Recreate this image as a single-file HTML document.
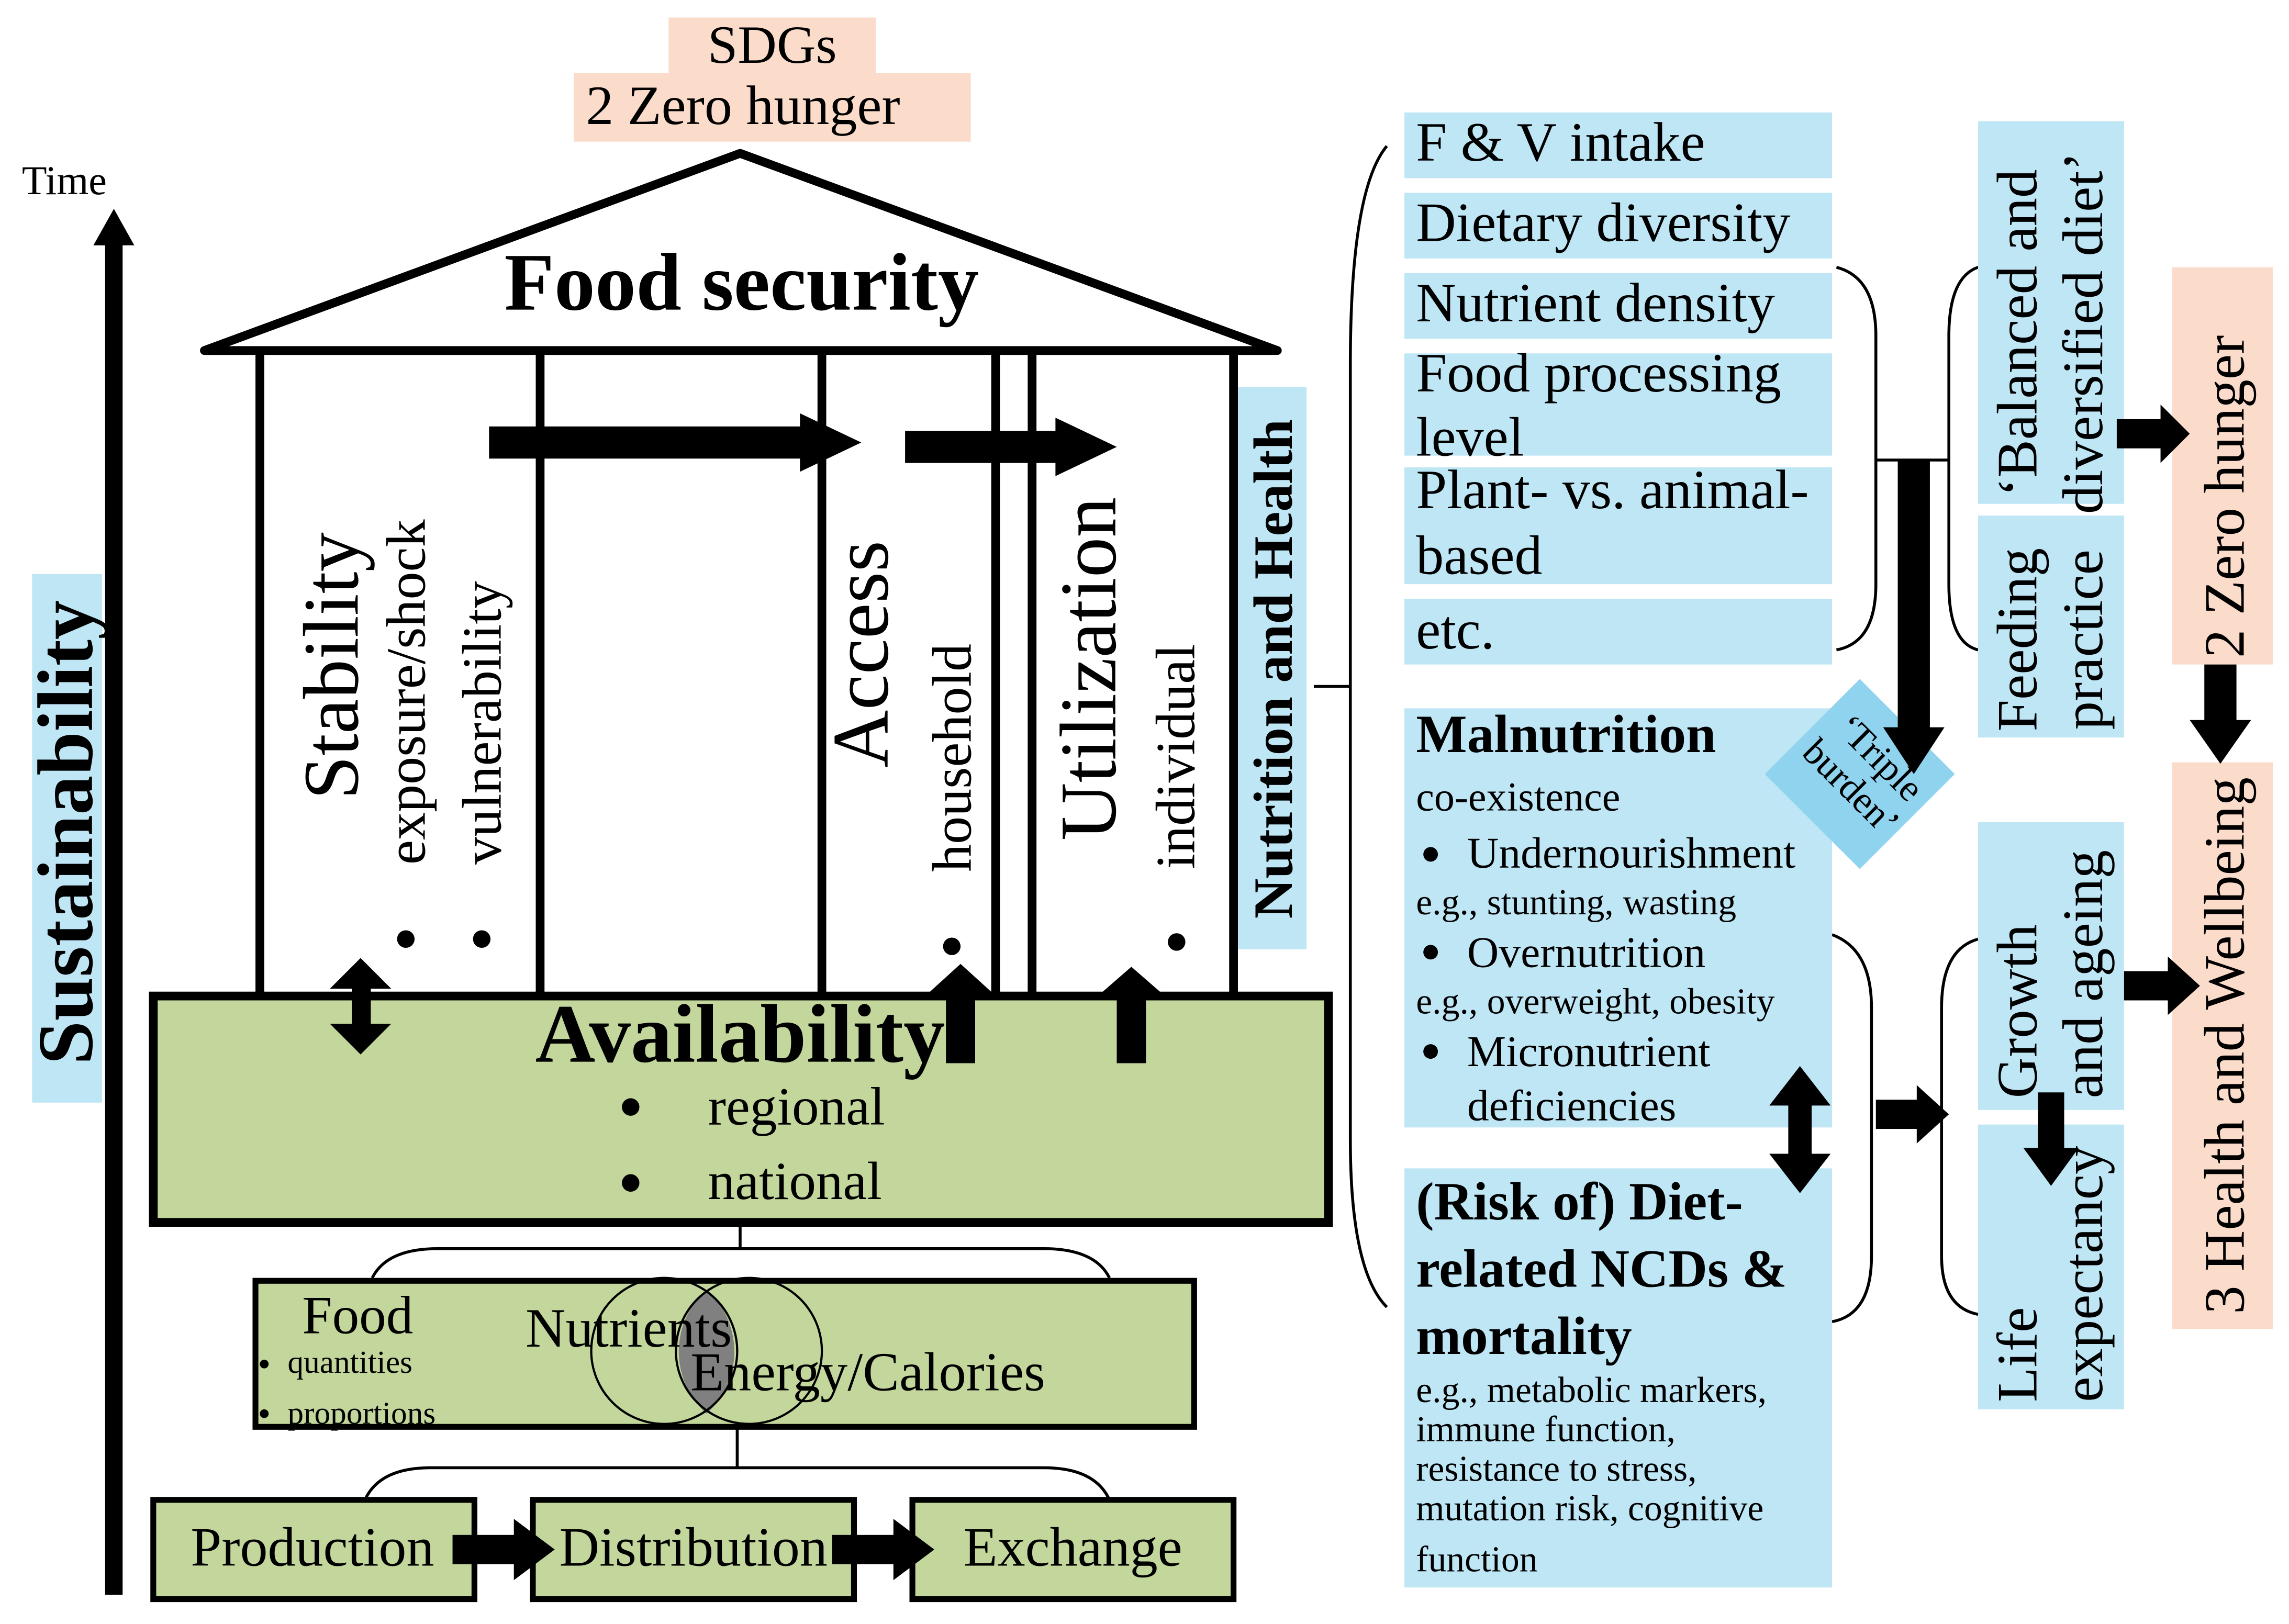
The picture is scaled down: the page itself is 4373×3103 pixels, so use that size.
<!DOCTYPE html>
<html><head><meta charset="utf-8"><style>
html,body{margin:0;padding:0;background:#fff}
svg{display:block}
text{font-family:"Liberation Serif",serif;fill:#000}
</style></head><body>
<svg width="4373" height="3103" viewBox="0 0 1568 1112" preserveAspectRatio="none" xmlns="http://www.w3.org/2000/svg">
<!-- SDGs -->
<rect x="458" y="12" width="142" height="40" fill="#fbdccb"/>
<rect x="393" y="50" width="272" height="47" fill="#fbdccb"/>
<text x="529" y="43" font-size="37" text-anchor="middle">SDGs</text>
<text x="509" y="85" font-size="38" text-anchor="middle">2 Zero hunger</text>
<!-- time arrow -->
<text x="15" y="133" font-size="28">Time</text>
<line x1="78" y1="1092" x2="78" y2="165" stroke="#000" stroke-width="12"/>
<path d="M64,168 L78,143 L92,168 Z"/>
<rect x="22" y="393" width="48" height="362" fill="#bfe6f5"/>
<text transform="translate(63,570) rotate(-90)" font-size="54" font-weight="bold" text-anchor="middle">Sustainability</text>
<!-- roof -->
<path d="M140,240 L507,105 L875,240 Z" fill="#fff" stroke="#000" stroke-width="6" stroke-linejoin="round"/>
<text x="508" y="212" font-size="56" font-weight="bold" text-anchor="middle">Food security</text>
<!-- pillars -->
<g stroke="#000" stroke-width="6">
<line x1="178" y1="240" x2="178" y2="682"/>
<line x1="370" y1="240" x2="370" y2="682"/>
<line x1="563" y1="240" x2="563" y2="682"/>
<line x1="682" y1="240" x2="682" y2="682"/>
<line x1="707" y1="240" x2="707" y2="682"/>
<line x1="845" y1="240" x2="845" y2="682"/>
</g>
<rect x="335" y="292" width="215" height="22"/><path d="M548,283 L590,303 L548,323 Z"/>
<rect x="620" y="295" width="105" height="22"/><path d="M723,286 L765,306 L723,326 Z"/>
<text transform="translate(245,456) rotate(-90)" font-size="54" text-anchor="middle">Stability</text>
<text transform="translate(291,592) rotate(-90)" font-size="38" text-anchor="start">exposure/shock</text>
<text transform="translate(343,592) rotate(-90)" font-size="38" text-anchor="start">vulnerability</text>
<circle cx="278" cy="643" r="6"/><circle cx="330" cy="643" r="6"/>
<text transform="translate(608,448) rotate(-90)" font-size="55" text-anchor="middle">Access</text>
<text transform="translate(665,597) rotate(-90)" font-size="38" text-anchor="start">household</text>
<circle cx="652" cy="648" r="6"/>
<text transform="translate(764,458) rotate(-90)" font-size="55" text-anchor="middle">Utilization</text>
<text transform="translate(818,595) rotate(-90)" font-size="38" text-anchor="start">individual</text>
<circle cx="806" cy="645" r="6"/>
<rect x="848" y="265" width="47" height="385" fill="#bfe6f5"/>
<text transform="translate(885,458) rotate(-90)" font-size="38" font-weight="bold" text-anchor="middle">Nutrition and Health</text>
<!-- availability -->
<rect x="105" y="682" width="805" height="155" fill="#c3d69b" stroke="#000" stroke-width="6"/>
<text x="507" y="727" font-size="57" font-weight="bold" text-anchor="middle">Availability</text>
<circle cx="432" cy="758" r="6"/><text x="485" y="770" font-size="37">regional</text>
<circle cx="432" cy="810" r="6"/><text x="485" y="821" font-size="37">national</text>
<!-- arrows on availability -->
<rect x="241" y="675" width="13" height="30"/><path d="M226,677 L247,656 L268,677Z"/><path d="M226,701 L247,722 L268,701Z"/>
<rect x="648" y="678" width="20" height="50"/><path d="M636,680 L658,660 L680,680Z"/>
<rect x="765" y="680" width="20" height="48"/><path d="M752,682 L775,662 L798,682Z"/>
<!-- brace to food -->
<g fill="none" stroke="#000" stroke-width="2">
<path d="M255,875 Q265,855 300,855 L715,855 Q750,855 760,875"/>
<line x1="507" y1="837" x2="507" y2="855"/>
<path d="M250,1027 Q260,1005 295,1005 L715,1005 Q750,1005 760,1027"/>
<line x1="505" y1="977" x2="505" y2="1005"/>
</g>
<rect x="175" y="877" width="643" height="100" fill="#c3d69b" stroke="#000" stroke-width="4"/>
<path d="M484,883 A57,57 0 0,1 484,968 A57,57 0 0,1 484,883Z" fill="#808080"/>
<circle cx="455" cy="925" r="50" fill="none" stroke="#000" stroke-width="1.5"/>
<circle cx="513" cy="925" r="50" fill="none" stroke="#000" stroke-width="1.5"/>
<text x="245" y="913" font-size="37" text-anchor="middle">Food</text>
<circle cx="181" cy="934" r="3"/><text x="197" y="940" font-size="22">quantities</text>
<circle cx="181" cy="968" r="3"/><text x="197" y="975" font-size="22">proportions</text>
<text x="360" y="922" font-size="38">Nutrients</text>
<text x="473" y="952" font-size="37.5">Energy/Calories</text>
<!-- bottom row -->
<rect x="105" y="1027" width="220" height="68" fill="#c3d69b" stroke="#000" stroke-width="4"/>
<rect x="365" y="1027" width="220" height="68" fill="#c3d69b" stroke="#000" stroke-width="4"/>
<rect x="625" y="1027" width="220" height="68" fill="#c3d69b" stroke="#000" stroke-width="4"/>
<text x="214" y="1072" font-size="38" text-anchor="middle">Production</text>
<text x="475" y="1072" font-size="38" text-anchor="middle">Distribution</text>
<text x="735" y="1072" font-size="38" text-anchor="middle">Exchange</text>
<rect x="310" y="1051" width="45" height="20"/><path d="M352,1040 L380,1061 L352,1082Z"/>
<rect x="570" y="1051" width="45" height="20"/><path d="M612,1040 L640,1061 L612,1082Z"/>
<!-- right big brace -->
<g fill="none" stroke="#000" stroke-width="2">
<path d="M950,100 Q925,130 925,250 L925,470 L900,470 M925,470 L925,780 Q925,870 950,895"/>
<path d="M1258,183 Q1285,190 1285,230 L1285,400 Q1285,440 1258,445"/>
<path d="M1355,183 Q1335,190 1335,230 L1335,400 Q1335,440 1355,445"/>
<line x1="1285" y1="315" x2="1335" y2="315"/>
<path d="M1255,640 Q1282,650 1282,690 L1282,860 Q1282,900 1255,905"/>
<path d="M1355,643 Q1330,650 1330,690 L1330,860 Q1330,895 1355,900"/>
</g>
<g fill="#bfe6f5">
<rect x="962" y="77" width="293" height="45"/>
<rect x="962" y="132" width="293" height="45"/>
<rect x="962" y="187" width="293" height="45"/>
<rect x="962" y="242" width="293" height="70"/>
<rect x="962" y="320" width="293" height="80"/>
<rect x="962" y="410" width="293" height="45"/>
<rect x="962" y="485" width="293" height="287"/>
<rect x="962" y="800" width="293" height="287"/>
<rect x="1355" y="83" width="100" height="262"/>
<rect x="1355" y="353" width="100" height="152"/>
<rect x="1355" y="563" width="100" height="197"/>
<rect x="1355" y="770" width="100" height="195"/>
</g>
<rect x="1488" y="183" width="69" height="272" fill="#fbdccb"/>
<rect x="1488" y="522" width="69" height="388" fill="#fbdccb"/>
<g font-size="38">
<text x="970" y="110">F &amp; V intake</text>
<text x="970" y="165">Dietary diversity</text>
<text x="970" y="220">Nutrient density</text>
<text x="970" y="268">Food processing</text>
<text x="970" y="312">level</text>
<text x="970" y="348">Plant- vs. animal-</text>
<text x="970" y="393">based</text>
<text x="970" y="444">etc.</text>
</g>
<text x="970" y="515" font-size="37" font-weight="bold">Malnutrition</text>
<text x="970" y="555" font-size="28">co-existence</text>
<circle cx="980" cy="585" r="5"/><text x="1005" y="594" font-size="30">Undernourishment</text>
<text x="970" y="626" font-size="25">e.g., stunting, wasting</text>
<circle cx="980" cy="652" r="5"/><text x="1005" y="662" font-size="30">Overnutrition</text>
<text x="970" y="694" font-size="25">e.g., overweight, obesity</text>
<circle cx="980" cy="720" r="5"/><text x="1005" y="730" font-size="30">Micronutrient</text>
<text x="1005" y="767" font-size="30">deficiencies</text>
<g font-size="37" font-weight="bold">
<text x="970" y="835">(Risk of) Diet-</text>
<text x="970" y="881">related NCDs &amp;</text>
<text x="970" y="927">mortality</text>
</g>
<g font-size="25">
<text x="970" y="960">e.g., metabolic markers,</text>
<text x="970" y="987">immune function,</text>
<text x="970" y="1014">resistance to stress,</text>
<text x="970" y="1041">mutation risk, cognitive</text>
<text x="970" y="1076">function</text>
</g>
<!-- triple burden diamond -->
<rect x="1228" y="484" width="92" height="92" fill="#8fd3ef" transform="rotate(45 1274 530)"/>
<text transform="translate(1282,525) rotate(45)" font-size="26" text-anchor="middle">‘Triple</text>
<text transform="translate(1262,545) rotate(45)" font-size="26" text-anchor="middle">burden’</text>
<!-- arrows right -->
<rect x="1300" y="315" width="22" height="185"/><path d="M1290,498 L1311,530 L1332,498Z"/>
<rect x="1450" y="287" width="32" height="20"/><path d="M1480,277 L1500,297 L1480,317Z"/>
<rect x="1510" y="455" width="22" height="40"/><path d="M1500,493 L1521,523 L1542,493Z"/>
<rect x="1455" y="665" width="32" height="20"/><path d="M1485,655 L1507,675 L1485,695Z"/>
<rect x="1285" y="753" width="30" height="20"/><path d="M1313,743 L1335,763 L1313,783Z"/>
<rect x="1225" y="755" width="16" height="38"/><path d="M1212,757 L1233,730 L1254,757Z"/><path d="M1212,790 L1233,817 L1254,790Z"/>
<!-- rotated right texts -->
<g font-size="39">
<text transform="translate(1395,228) rotate(-90)" text-anchor="middle">‘Balanced and</text>
<text transform="translate(1440,228) rotate(-90)" text-anchor="middle">diversified diet’</text>
<text transform="translate(1395,438) rotate(-90)" text-anchor="middle">Feeding</text>
<text transform="translate(1440,438) rotate(-90)" text-anchor="middle">practice</text>
<text transform="translate(1395,752) rotate(-90)" text-anchor="start">Growth</text>
<text transform="translate(1440,752) rotate(-90)" text-anchor="start">and ageing</text>
<text transform="translate(1395,960) rotate(-90)" text-anchor="start">Life</text>
<text transform="translate(1440,960) rotate(-90)" text-anchor="start">expectancy</text>
<text transform="translate(1537,340) rotate(-90)" text-anchor="middle">2 Zero hunger</text>
<text transform="translate(1537,716) rotate(-90)" text-anchor="middle">3 Health and Wellbeing</text>
</g>
<rect x="1396" y="748" width="18" height="40"/><path d="M1386,786 L1405,812 L1424,786Z"/>
</svg>
</body></html>
